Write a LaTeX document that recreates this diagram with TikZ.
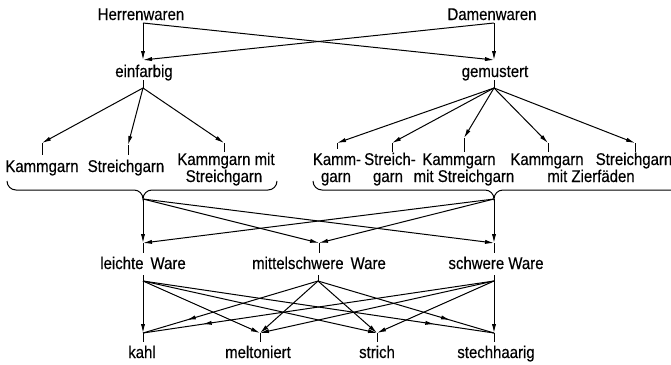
\documentclass[tikz,border=0pt]{standalone}
\usepackage{fontspec}
\setmainfont{Liberation Sans}[FakeStretch=0.88,FakeBold=0.35]
\usetikzlibrary{arrows.meta,decorations.markings}
\begin{document}
\begin{tikzpicture}[x=1pt,y=-1pt,
  ln/.style={line width=1pt},
  arr/.style={ln,-{Latex[length=9pt,width=4.2pt]}},
  midarr/.style={ln,postaction={decorate},decoration={markings,mark=at position #1 with {\arrow{Latex[length=9pt,width=4.2pt]}}}},
  lbl/.style={inner sep=0pt,anchor=base,font=\fontsize{17}{19}\selectfont}]
\useasboundingbox (0,0) rectangle (671,364);
% ---- texts
\node[lbl] (herren) at (141,20) {Herrenwaren};
\node[lbl] (damen) at (492,20) {Damenwaren};
\node[lbl] (einf) at (144,77) {einfarbig};
\node[lbl] (gem) at (495,77) {gemustert};
\node[lbl] (kL) at (42,172) {Kammgarn};
\node[lbl] (sL) at (126,172) {Streichgarn};
\node[lbl] (mL1) at (226,165) {Kammgarn mit};
\node[lbl] (mL2) at (224,182) {Streichgarn};
\node[lbl] (kR1) at (337,165) {Kamm-};
\node[lbl] (kR2) at (336,182) {garn};
\node[lbl] (sR1) at (390,165) {Streich-};
\node[lbl] (sR2) at (388,182) {garn};
\node[lbl] (mR1) at (459,165) {Kammgarn};
\node[lbl] (mR2) at (464,182) {mit Streichgarn};
\node[lbl] (zR1) at (547,165) {Kammgarn};
\node[lbl] (zR2) at (591,182) {mit Zierfäden};
\node[lbl] (gR) at (634,165) {Streichgarn};
\node[lbl] (leicht) at (143,269) {leichte\, Ware};
\node[lbl] (mittel) at (319,269) {mittelschwere\, Ware};
\node[lbl] (schwer) at (496,269) {schwere Ware};
\node[lbl] (kahl) at (142,358) {kahl};
\node[lbl] (melt) at (258,358) {meltoniert};
\node[lbl] (strich) at (377,358) {strich};
\node[lbl] (stech) at (496,358) {stechhaarig};
% ---- connection points
\coordinate (hS) at (143,23);
\coordinate (dS) at (494,23);
\coordinate (eT) at (143,60);
\coordinate (gT) at (494,60);
\coordinate (eSt) at (143,80);
\coordinate (eS) at (143,88);
\coordinate (gSt) at (494,80);
\coordinate (gS) at (494,88);
\coordinate (kLT) at (42,143);  \coordinate (kLB) at (42,155);
\coordinate (sLT) at (128,145); \coordinate (sLB) at (128,155);
\coordinate (mLT) at (224,143); \coordinate (mLB) at (224,152);
\coordinate (kRT) at (337,143); \coordinate (kRB) at (337,149);
\coordinate (sRT) at (392,143); \coordinate (sRB) at (392,152);
\coordinate (mRT) at (464,138); \coordinate (mRB) at (464,152);
\coordinate (zRT) at (548,143); \coordinate (zRB) at (548,152);
\coordinate (gRT) at (635,143); \coordinate (gRB) at (635,152);
\coordinate (bL) at (143,199);
\coordinate (bR) at (494,199);
\coordinate (lT) at (143,243); \coordinate (lB) at (143,253);
\coordinate (mT) at (319,243); \coordinate (mB) at (319,253);
\coordinate (sT) at (494,243); \coordinate (sB) at (494,253);
\coordinate (lSt) at (143,275); \coordinate (lS) at (143,281);
\coordinate (mSt) at (318,275); \coordinate (mS) at (318,281);
\coordinate (sSt) at (494,275); \coordinate (sS) at (494,281);
\coordinate (kaT) at (143,333); \coordinate (kaB) at (143,342);
\coordinate (meT) at (260,333); \coordinate (meB) at (260,342);
\coordinate (stT) at (377,333); \coordinate (stB) at (377,342);
\coordinate (shT) at (494,333); \coordinate (shB) at (494,342);
% ---- level 0 -> 1
\draw[arr] (hS) -- (eT);
\draw[arr] (hS) -- (gT);
\draw[arr] (dS) -- (gT);
\draw[arr] (dS) -- (eT);
% ---- level 1 -> 2
\draw[ln] (eSt) -- (eS);
\draw[ln] (gSt) -- (gS);
\draw[arr] (eS) -- (kLT);
\draw[arr] (eS) -- (sLT);
\draw[arr] (eS) -- (mLT);
\draw[arr] (gS) -- (kRT);
\draw[arr] (gS) -- (sRT);
\draw[arr] (gS) -- (mRT);
\draw[arr] (gS) -- (zRT);
\draw[arr] (gS) -- (gRT);
\foreach \a/\b in {kLT/kLB,sLT/sLB,mLT/mLB,kRT/kRB,sRT/sRB,mRT/mRB,zRT/zRB,gRT/gRB}
  \draw[ln] (\a) -- (\b);
% ---- braces
\draw[ln] (7,181) to[out=-90,in=180] (16,190) -- (134,190) to[out=0,in=90] (bL)
          to[out=90,in=180] (152,190) -- (268,190) to[out=0,in=-90] (277,181);
\draw[ln] (313,181) to[out=-90,in=180] (322,190) -- (485,190) to[out=0,in=90] (bR)
          to[out=90,in=180] (503,190) -- (672,190);
% ---- level 2 -> 3
\draw[arr] (bL) -- (lT);
\draw[arr] (bL) -- (mT);
\draw[arr] (bL) -- (sT);
\draw[arr] (bR) -- (lT);
\draw[arr] (bR) -- (mT);
\draw[arr] (bR) -- (sT);
\foreach \a/\b in {lT/lB,mT/mB,sT/sB,lSt/lS,mSt/mS,sSt/sS,kaT/kaB,meT/meB,stT/stB,shT/shB}
  \draw[ln] (\a) -- (\b);
% ---- level 3 -> 4
\draw[arr] (lS) -- (kaT);
\draw[arr] (lS) -- (meT);
\draw[arr] (lS) -- (stT);
\draw[midarr=0.83] (lS) -- (shT);
\draw[midarr=0.75] (mS) -- (kaT);
\draw[arr] (mS) -- (meT);
\draw[arr] (mS) -- (stT);
\draw[midarr=0.75] (mS) -- (shT);
\draw[midarr=0.83] (sS) -- (kaT);
\draw[arr] (sS) -- (meT);
\draw[arr] (sS) -- (stT);
\draw[arr] (sS) -- (shT);
\end{tikzpicture}
\end{document}
